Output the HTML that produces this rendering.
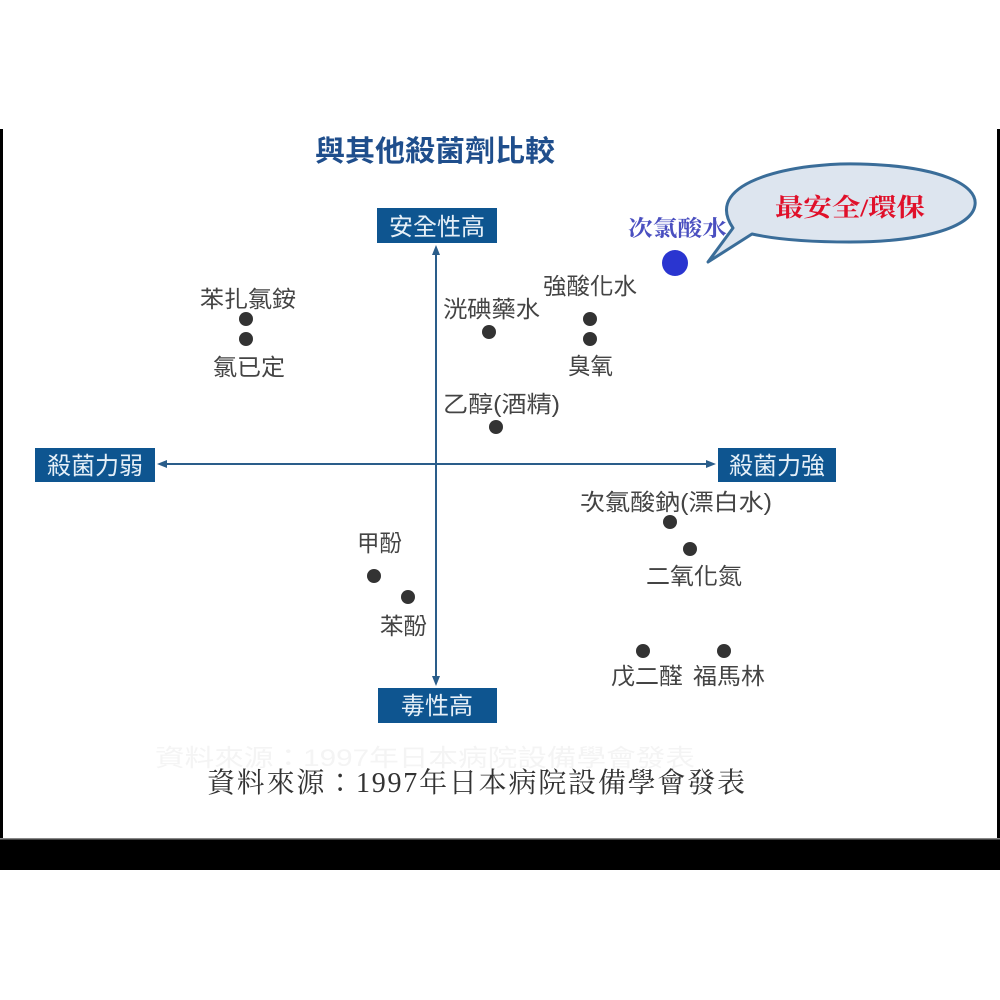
<!DOCTYPE html>
<html><head><meta charset="utf-8"><style>
html,body{margin:0;padding:0;background:#fff;width:1000px;height:1000px;overflow:hidden}
</style></head><body>
<svg width="1000" height="1000" xmlns="http://www.w3.org/2000/svg" style="display:block">
<rect width="1000" height="1000" fill="#fff"/>
<rect x="0" y="129" width="3" height="710" fill="#000"/>
<rect x="997" y="129" width="3" height="710" fill="#000"/>
<rect x="0" y="838" width="1000" height="32" fill="#000"/>
<rect x="0" y="838" width="1000" height="1.5" fill="#888"/>
<g font-family="Liberation Sans, Noto Sans CJK TC, sans-serif">
<text x="315" y="161" font-size="29" font-weight="bold" fill="#1f4e8c" textLength="240" lengthAdjust="spacingAndGlyphs">與其他殺菌劑比較</text>
<line x1="436" y1="250" x2="436" y2="682" stroke="#2a5d8a" stroke-width="2"/>
<line x1="162" y1="464" x2="712" y2="464" stroke="#2a5d8a" stroke-width="2"/>
<polygon points="436,245 432,255 440,255" fill="#2a5d8a"/>
<polygon points="436,686 432,676 440,676" fill="#2a5d8a"/>
<polygon points="157,464 167,460 167,468" fill="#2a5d8a"/>
<polygon points="716,464 706,460 706,468" fill="#2a5d8a"/>
<g fill="#0e5590"><rect x="377" y="208" width="120" height="35"/><rect x="35" y="448" width="120" height="34"/><rect x="718" y="448" width="118" height="34"/><rect x="378" y="688" width="119" height="35"/></g>
<g fill="#e6f0f8" font-size="24" text-anchor="middle">
<text x="437" y="235">安全性高</text><text x="95" y="474">殺菌力弱</text><text x="777" y="474">殺菌力強</text><text x="437" y="714">毒性高</text>
</g>
<g fill="#444" font-size="23">
<text x="200" y="307" textLength="96" lengthAdjust="spacingAndGlyphs">苯扎氯銨</text>
<text x="213" y="375" textLength="72" lengthAdjust="spacingAndGlyphs">氯已定</text>
<text x="443" y="317" textLength="97" lengthAdjust="spacingAndGlyphs">洸碘藥水</text>
<text x="543" y="294" textLength="94" lengthAdjust="spacingAndGlyphs">強酸化水</text>
<text x="568" y="374" textLength="45" lengthAdjust="spacingAndGlyphs">臭氧</text>
<text x="443" y="412" textLength="117" lengthAdjust="spacingAndGlyphs">乙醇(酒精)</text>
<text x="580" y="510" textLength="192" lengthAdjust="spacingAndGlyphs">次氯酸鈉(漂白水)</text>
<text x="646" y="584" textLength="96" lengthAdjust="spacingAndGlyphs">二氧化氮</text>
<text x="357" y="551" textLength="45" lengthAdjust="spacingAndGlyphs">甲酚</text>
<text x="380" y="634" textLength="47" lengthAdjust="spacingAndGlyphs">苯酚</text>
<text x="611" y="684" textLength="72" lengthAdjust="spacingAndGlyphs">戊二醛</text>
<text x="693" y="684" textLength="72" lengthAdjust="spacingAndGlyphs">福馬林</text>
</g>
<g fill="#333">
<circle cx="246" cy="319" r="7"/><circle cx="246" cy="339" r="7"/><circle cx="489" cy="332" r="7"/>
<circle cx="590" cy="319" r="7"/><circle cx="590" cy="339" r="7"/><circle cx="496" cy="427" r="7"/>
<circle cx="374" cy="576" r="7"/><circle cx="408" cy="597" r="7"/><circle cx="670" cy="522" r="7"/>
<circle cx="690" cy="549" r="7"/><circle cx="643" cy="651" r="7"/><circle cx="724" cy="651" r="7"/>
</g>
<circle cx="675" cy="263" r="13" fill="#2a35d0"/>
<text x="628" y="236" font-size="22" fill="#4a4fc0" font-family="Liberation Serif, Noto Serif CJK SC, serif" font-weight="bold" textLength="99" lengthAdjust="spacingAndGlyphs">次氯酸水</text>
<path d="M733,228 C700,180 800,162 860,164 C940,166 978,185 975,205 C972,228 920,242 850,242 C800,242 770,238 752,234 L708,262 Z" fill="#dde5ef" stroke="#3a6d99" stroke-width="3" stroke-linejoin="round"/>
<text x="775" y="216" font-size="25" font-weight="bold" fill="#e0102a" font-family="Liberation Serif, Noto Serif CJK SC, serif" textLength="150" lengthAdjust="spacingAndGlyphs">最安全/環保</text>
<text x="155" y="766" font-size="24" fill="#f4f4f4" textLength="540" lengthAdjust="spacingAndGlyphs">資料來源：1997年日本病院設備學會發表</text>
<text x="476" y="792" text-anchor="middle" font-size="28" fill="#333" font-family="Liberation Serif, Noto Serif CJK TC, serif" textLength="538">資料來源：1997年日本病院設備學會發表</text>
</g>
</svg>
</body></html>
